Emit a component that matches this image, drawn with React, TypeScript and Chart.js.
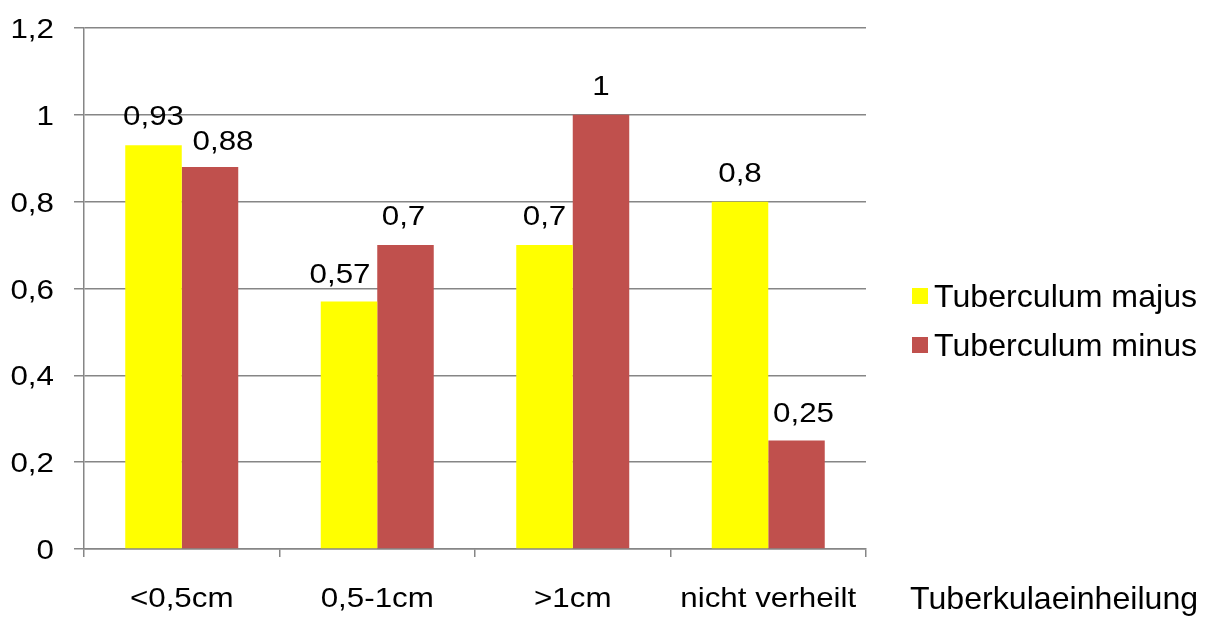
import React, { useEffect, useRef } from "react";
import { Chart, registerables } from "chart.js";

Chart.register(...registerables);

const categories = ["<0,5cm", "0,5-1cm", ">1cm", "nicht verheilt"];
const majusValues = [0.93, 0.57, 0.7, 0.8];
const minusValues = [0.88, 0.7, 1, 0.25];
const seriesNames = ["Tuberculum majus", "Tuberculum minus"];
const seriesColors = ["#FFFF00", "#C0504D"];
const axisTitle = "Tuberkulaeinheilung";

const FONT = "'Liberation Sans', Arial, sans-serif";
const GRID = "#868686";
const SMALL = `28.5px ${FONT}`;
const SX = 1.1;

// manual nudges of individual data labels (dx, dy) in px, per dataset
const labelNudges = [
  [[0, 0], [-9, 1], [0, 0], [0, 0]],
  [[13, 3], [-2, 0], [0, 0], [7, 2]],
];

const fmt = (v: number) => String(Number(v.toFixed(2))).replace(".", ",");

function drawText(ctx: any, text: string, x: number, y: number, align: string, sx: number) {
  ctx.save();
  ctx.translate(x, y);
  ctx.scale(sx, 1);
  ctx.textAlign = align;
  ctx.textBaseline = "alphabetic";
  ctx.fillText(text, 0, 0);
  ctx.restore();
}

const overlayPlugin = {
  id: "overlay",
  afterDraw(chart: any) {
    const ctx = chart.ctx;
    ctx.save();
    ctx.fillStyle = "#000";
    ctx.font = SMALL;
    // y tick labels
    const ys = chart.scales.y;
    ys.ticks.forEach((t: any, i: number) => {
      const y = ys.getPixelForTick(i);
      drawText(ctx, fmt(Number(t.value)), ys.right - 30, y + 10, "right", SX);
    });
    // x tick labels
    const xs = chart.scales.x;
    categories.forEach((c, i) => {
      const x = xs.getPixelForTick(i);
      drawText(ctx, c, x, xs.top + 58, "center", SX);
    });
    // data labels
    chart.data.datasets.forEach((ds: any, i: number) => {
      const meta = chart.getDatasetMeta(i);
      meta.data.forEach((bar: any, j: number) => {
        const [dx, dy] = labelNudges[i][j];
        drawText(ctx, fmt(ds.data[j]), bar.x + dx, bar.y - 20 + dy, "center", SX);
      });
    });
    // legend
    const legendY = [296, 345];
    ctx.font = `31.5px ${FONT}`;
    seriesNames.forEach((name, i) => {
      ctx.fillStyle = seriesColors[i];
      ctx.fillRect(912, legendY[i] - 8, 16, 16);
      ctx.fillStyle = "#000";
      drawText(ctx, name, 934, legendY[i] + 11, "left", 1.02);
    });
    // axis title
    drawText(ctx, axisTitle, 910, 609, "left", 1.02);
    ctx.restore();
  },
};

export default function App() {
  const ref = useRef<HTMLCanvasElement | null>(null);
  useEffect(() => {
    if (!ref.current) return;
    const chart = new Chart(ref.current, {
      type: "bar",
      data: {
        labels: categories,
        datasets: [
          {
            label: seriesNames[0],
            data: majusValues,
            backgroundColor: seriesColors[0],
            categoryPercentage: 0.578,
            barPercentage: 1,
          },
          {
            label: seriesNames[1],
            data: minusValues,
            backgroundColor: seriesColors[1],
            categoryPercentage: 0.578,
            barPercentage: 1,
          },
        ],
      },
      options: {
        animation: false,
        responsive: true,
        maintainAspectRatio: false,
        layout: { padding: { left: 0, top: 28, right: 341, bottom: 0 } },
        plugins: {
          legend: { display: false },
          tooltip: { enabled: false },
        },
        scales: {
          x: {
            offset: true,
            afterFit: (s: any) => {
              s.height = 68;
              s.paddingLeft = 0;
              s.paddingRight = 0;
            },
            grid: {
              offset: true,
              drawOnChartArea: false,
              drawTicks: true,
              tickLength: 8,
              color: GRID,
              lineWidth: 1.5,
            },
            border: { display: true, color: GRID, width: 1.5 },
            ticks: { display: false, autoSkip: false },
          },
          y: {
            min: 0,
            max: 1.2,
            afterFit: (s: any) => {
              s.width = 84;
              s.paddingTop = 0;
              s.paddingBottom = 0;
            },
            grid: {
              color: GRID,
              lineWidth: 1.5,
              drawTicks: true,
              tickLength: 10,
            },
            border: { display: true, color: GRID, width: 1.5 },
            ticks: { display: false, stepSize: 0.2 },
          },
        },
      },
      plugins: [overlayPlugin],
    });
    return () => chart.destroy();
  }, []);
  return (
    <div style={{ position: "fixed", left: 0, top: 0, width: 1207, height: 617, background: "#fff" }}>
      <canvas ref={ref} />
    </div>
  );
}
